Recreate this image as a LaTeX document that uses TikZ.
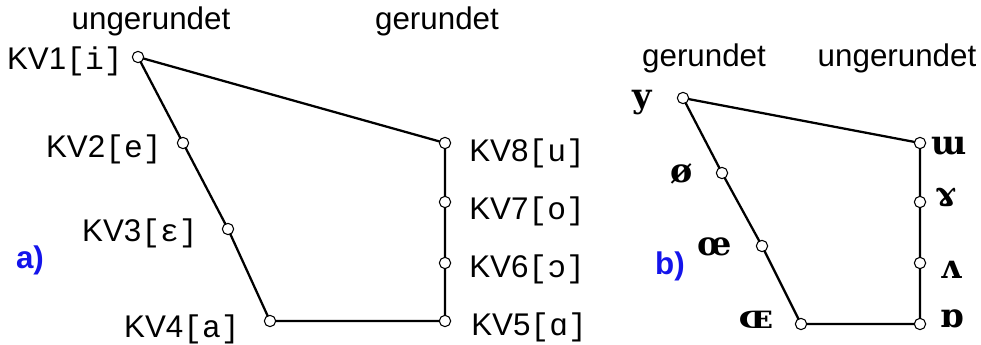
\documentclass[tikz,border=0pt]{standalone}
\usepackage{fontspec}
\setmainfont{Liberation Sans}
\newfontfamily\monof{Liberation Mono}
\newfontfamily\ipaf{DejaVu Serif}
\definecolor{lblblue}{RGB}{20,20,235}
\begin{document}
\begin{tikzpicture}[x=0.75pt,y=-0.75pt,
  vtx/.style={circle,draw,fill=white,line width=0.8pt,minimum size=8.5pt,inner sep=0pt},
  edge/.style={line width=1.7pt},
  lab/.style={inner sep=0pt,font=\fontsize{23.5}{27}\selectfont},
  ipa/.style={inner sep=0pt,font=\fontsize{25}{29}\selectfont\ipaf\bfseries},
  tag/.style={inner sep=0pt,font=\fontsize{23.5}{27}\selectfont\bfseries,text=lblblue}]
\useasboundingbox (0,0) rectangle (981,345);
% left diagram vertices
\coordinate (k1) at (138,57);
\coordinate (k2) at (183,143);
\coordinate (k3) at (228,229);
\coordinate (k4) at (270,321);
\coordinate (k5) at (445,321);
\coordinate (k6) at (445,263);
\coordinate (k7) at (445,202);
\coordinate (k8) at (445,143);
\draw[edge] (k8) -- (k1) -- (k2) -- (k3) -- (k4) -- (k5) -- (k6) -- (k7) -- (k8);
\foreach \n in {k1,k2,k3,k4,k5,k6,k7,k8} \node[vtx] (v\n) at (\n) {};
% labels
\node[lab,anchor=base] (hu) at (151,30) {ungerundet};
\node[lab,anchor=base] (hg) at (437,30) {gerundet};
\node[lab,anchor=base east] (l1) at (123,70) {KV1{\monof[i]}};
\node[lab,anchor=base east] (l2) at (162,158) {KV2{\monof[e]}};
\node[lab,anchor=base east] (l3) at (198,242) {KV3{\monof[ɛ]}};
\node[lab,anchor=base east] (l4) at (240,337) {KV4{\monof[a]}};
\node[lab,anchor=base west] (l8) at (469,162) {KV8{\monof[u]}};
\node[lab,anchor=base west] (l7) at (469,220) {KV7{\monof[o]}};
\node[lab,anchor=base west] (l6) at (469,277) {KV6{\monof[ɔ]}};
\node[lab,anchor=base west] (l5) at (471,335) {KV5{\monof[ɑ]}};
\node[tag,anchor=base] (ta) at (30,268) {a)};
% right diagram vertices
\coordinate (r1) at (683,98);
\coordinate (r2) at (722,173);
\coordinate (r3) at (762,246);
\coordinate (r4) at (801,324);
\coordinate (r5) at (920,324);
\coordinate (r6) at (920,263);
\coordinate (r7) at (920,202);
\coordinate (r8) at (920,143);
\draw[edge] (r8) -- (r1) -- (r2) -- (r3) -- (r4) -- (r5) -- (r6) -- (r7) -- (r8);
\foreach \n in {r1,r2,r3,r4,r5,r6,r7,r8} \node[vtx] (v\n) at (\n) {};
\node[lab,anchor=base] (rg) at (704,67) {gerundet};
\node[lab,anchor=base] (ru) at (897,67) {ungerundet};
\node[ipa,anchor=base] (s1) at (642,108) {y};
\node[ipa,anchor=base] (s2) at (682,183) {ø};
\node[ipa,anchor=base] (s3) at (715,256) {œ};
\node[ipa,anchor=base] (s4) at (756,328) {ɶ};
\node[ipa,anchor=base] (s8) at (949,155) {ɯ};
\node[ipa,anchor=base] (s7) at (946,206) {ɤ};
\node[ipa,anchor=base] (s6) at (951,278) {ʌ};
\node[ipa,anchor=base] (s5) at (952,327) {ɒ};
\node[tag,anchor=base] (tb) at (670,274) {b)};
\end{tikzpicture}
\end{document}
